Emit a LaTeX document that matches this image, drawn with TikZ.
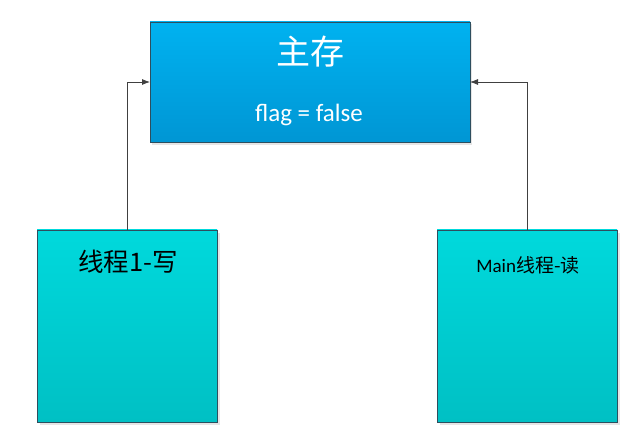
\documentclass[tikz,border=0pt]{standalone}
\usepackage{fontspec}
\usetikzlibrary{arrows.meta}
\setmainfont{Carlito}
\newfontfamily\cjk{Noto Sans CJK SC}
\definecolor{mainTop}{HTML}{00B2F0}
\definecolor{mainBot}{HTML}{0096D4}
\definecolor{cyTop}{HTML}{00D9DC}
\definecolor{cyBot}{HTML}{00C0C4}
\definecolor{edge}{HTML}{2E4E5E}
\definecolor{wire}{HTML}{404040}
\begin{document}
\begin{tikzpicture}[x=1pt,y=-1pt,
  box/.style={draw=edge,line width=0.9pt,rectangle,inner sep=0pt,outer sep=0pt},
  wireline/.style={draw=wire,line width=0.8pt,-{Latex[length=8pt,width=6pt]}}]
\useasboundingbox (0,0) rectangle (640,438);
% shadows
\fill[black!10] (152,24) rectangle (472,145);
\fill[black!10] (40,233) rectangle (220,425);
\fill[black!10] (440,233) rectangle (620,425);
% boxes
\node[box,top color=mainTop,bottom color=mainBot,minimum width=320pt,minimum height=120pt,anchor=north west] (mem) at (150,22) {};
\node[box,top color=cyTop,bottom color=cyBot,minimum width=180pt,minimum height=192pt,anchor=north west] (t1) at (37,230) {};
\node[box,top color=cyTop,bottom color=cyBot,minimum width=180pt,minimum height=192pt,anchor=north west] (tm) at (437,230) {};
% texts
\node[text=white,font=\cjk\fontsize{34}{38}\selectfont] (memtitle) at (310,52) {主存};
\node[text=white,font=\fontsize{25}{30}\selectfont] (flag) at (309,115) {flag = false};
\node[text=black,font=\cjk\fontsize{25.5}{30}\selectfont] (t1label) at (128,262) {线程1-写};
\node[text=black,font=\fontsize{19}{23}\selectfont] (tmlabel) at (528,265) {Main{\cjk 线程-读}};
% connectors
\coordinate (a1) at (127,82);
\coordinate (a2) at (527,82);
\draw[wireline] (t1.north -| a1) -- (a1) -- (mem.west |- a1);
\draw[wireline] (tm.north -| a2) -- (a2) -- (mem.east |- a2);
\end{tikzpicture}
\end{document}
